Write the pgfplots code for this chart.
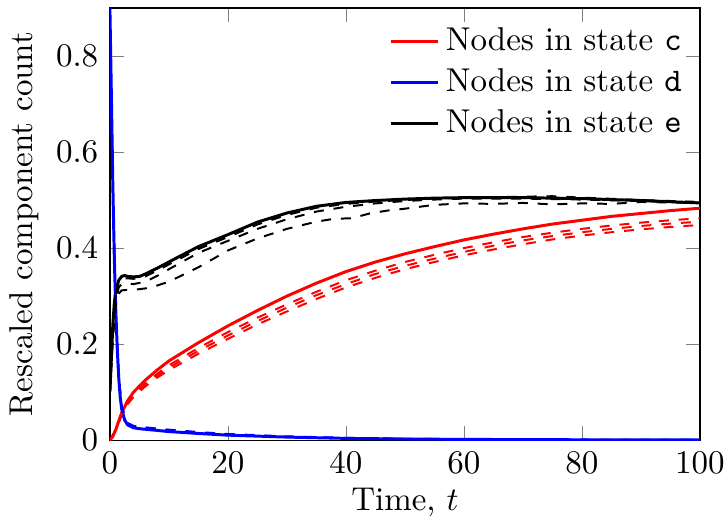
\documentclass[border=0pt]{standalone}
\usepackage{pgfplots}
\pgfplotsset{compat=1.18}
\begin{document}
\begin{tikzpicture}
\begin{axis}[scale only axis,
    width=178.8pt, height=131pt,
    xmin=0, xmax=100,
    ymin=0, ymax=0.9,
    xtick={0,20,...,100},
    ytick={0,0.2,...,0.8},
    xlabel={Time, $t$},
    ylabel={Rescaled component count},
    xlabel style={yshift=2.2pt},
    ylabel style={yshift=-1.8pt},
    legend pos=north east,
    legend style={draw=none, fill=none, at={(0.998,0.987)}},
    legend cell align=left,
    legend image code/.code={\draw[#1] (0cm,0cm) -- (0.5cm,0cm);},
]
% mean-field solutions
\addplot[red, line width=0.9pt] coordinates {
(0,0)(0.5,0.008)(1,0.022)(1.5,0.04)(2,0.057)(3,0.082)(4,0.100)(6,0.125)(8,0.146)
(10,0.165)(15,0.203)(20,0.238)(25,0.270)(30,0.300)(35,0.327)(40,0.351)
(45,0.371)(50,0.388)(55,0.403)(60,0.417)(65,0.429)(70,0.440)(75,0.450)
(80,0.458)(85,0.466)(90,0.472)(95,0.478)(100,0.483)};
\addlegendentry{Nodes in state \texttt{c}}
\addplot[blue, line width=0.9pt] coordinates {
(0,0.9)(0.25,0.72)(0.5,0.53)(0.75,0.38)(1,0.27)(1.25,0.19)(1.5,0.13)
(1.75,0.09)(2,0.065)(2.5,0.042)(3,0.032)(4,0.026)(5,0.024)(7.5,0.021)
(10,0.018)(15,0.014)(20,0.0105)(30,0.0065)(40,0.0038)(50,0.0025)
(60,0.0017)(80,0.0009)(100,0.0005)};
\addlegendentry{Nodes in state \texttt{d}}
\addplot[black, line width=0.9pt] coordinates {
(0,0.1)(0.25,0.17)(0.5,0.24)(0.75,0.285)(1,0.31)(1.5,0.333)(2,0.341)
(2.5,0.343)(3,0.341)(4,0.340)(5,0.341)(6,0.346)(8,0.358)(10,0.371)
(12,0.384)(15,0.403)(20,0.428)(25,0.454)(30,0.473)(35,0.487)(40,0.495)
(45,0.499)(50,0.502)(55,0.504)(60,0.505)(70,0.505)(80,0.503)(90,0.499)(100,0.494)};
\addlegendentry{Nodes in state \texttt{e}}
% simulations
\addplot[red, dashed, semithick, forget plot] coordinates {
(0,0)(1,0.022)(2,0.055)(3,0.079)(4,0.096)(6,0.119)(8,0.138)(10,0.156)
(15,0.192)(20,0.225)(25,0.255)(30,0.283)(35,0.309)(40,0.333)(45,0.353)
(50,0.371)(55,0.386)(60,0.400)(65,0.412)(70,0.423)(75,0.432)(80,0.440)
(85,0.447)(90,0.453)(95,0.458)(100,0.462)};
\addplot[red, dashed, semithick, forget plot] coordinates {
(0,0)(1,0.021)(2,0.054)(3,0.077)(4,0.093)(6,0.116)(8,0.134)(10,0.151)
(15,0.186)(20,0.218)(25,0.248)(30,0.276)(35,0.302)(40,0.325)(45,0.346)
(50,0.363)(55,0.378)(60,0.392)(65,0.405)(70,0.416)(75,0.425)(80,0.433)
(85,0.440)(90,0.446)(95,0.451)(100,0.455)};
\addplot[red, dashed, semithick, forget plot] coordinates {
(0,0)(1,0.020)(2,0.052)(3,0.075)(4,0.090)(6,0.112)(8,0.130)(10,0.146)
(15,0.180)(20,0.211)(25,0.241)(30,0.268)(35,0.294)(40,0.318)(45,0.338)
(50,0.356)(55,0.371)(60,0.385)(65,0.397)(70,0.408)(75,0.418)(80,0.426)
(85,0.433)(90,0.439)(95,0.444)(100,0.448)};
\addplot[blue, dashed, semithick, forget plot] coordinates {
(0,0.9)(0.5,0.53)(1,0.27)(1.5,0.135)(2,0.07)(3,0.036)(4,0.030)(5,0.028)
(7.5,0.025)(10,0.022)(15,0.017)(20,0.013)(30,0.008)(40,0.005)(50,0.003)
(60,0.002)(80,0.001)(100,0.0006)};
\addplot[blue, dashed, semithick, forget plot] coordinates {
(0,0.9)(0.5,0.53)(1,0.27)(1.5,0.133)(2,0.068)(3,0.034)(4,0.028)(5,0.026)
(7.5,0.023)(10,0.020)(15,0.016)(20,0.012)(30,0.007)(40,0.0045)(50,0.0028)
(60,0.0018)(80,0.001)(100,0.0005)};
\addplot[black, dashed, semithick, forget plot] coordinates {
(0,0.1)(0.5,0.235)(1,0.305)(1.5,0.328)(2,0.336)(3,0.337)(4,0.336)(6,0.341)
(8,0.353)(10,0.366)(15,0.398)(20,0.423)(25,0.449)(30,0.469)(35,0.484)
(40,0.492)(45,0.497)(50,0.500)(55,0.503)(60,0.505)(65,0.506)(70,0.507)
(75,0.508)(80,0.505)(90,0.500)(100,0.496)};
\addplot[black, dashed, semithick, forget plot] coordinates {
(0,0.1)(0.5,0.22)(1,0.29)(1.5,0.318)(2,0.325)(3,0.326)(4,0.325)(6,0.33)
(8,0.342)(10,0.356)(15,0.39)(20,0.415)(25,0.44)(30,0.46)(35,0.476)
(40,0.486)(45,0.493)(50,0.498)(55,0.501)(60,0.503)(70,0.503)(80,0.501)
(90,0.498)(100,0.494)};
\addplot[black, dashed, semithick, forget plot] coordinates {
(0,0.1)(0.5,0.21)(1,0.28)(1.5,0.305)(2,0.312)(3,0.313)(4,0.313)(6,0.316)
(8,0.322)(10,0.33)(12,0.342)(15,0.36)(20,0.395)(25,0.42)(30,0.44)
(35,0.455)(38,0.461)(41,0.462)(44,0.472)(47,0.478)(50,0.482)(55,0.49)
(60,0.493)(65,0.492)(70,0.494)(75,0.491)(80,0.493)(85,0.492)(90,0.496)
(95,0.495)(100,0.494)};
\end{axis}
\pgfresetboundingbox
\path[use as bounding box] ([xshift=-33.3pt,yshift=-23.9pt]current axis.south west)
    rectangle ([xshift=8.2pt,yshift=2.4pt]current axis.north east);
\end{tikzpicture}
\end{document}
